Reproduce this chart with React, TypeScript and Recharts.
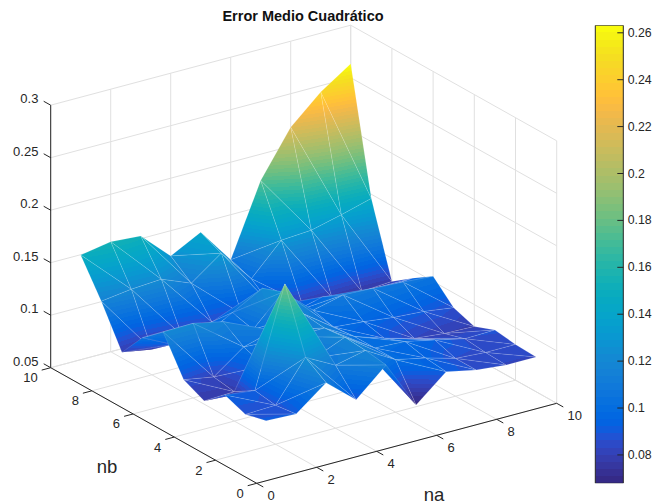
import React from "react";
import { ScatterChart, Scatter, XAxis, YAxis, BarChart, Bar } from "recharts";

const W = 652;
const H = 504;

const na = [1, 2, 3, 4, 5, 6, 7, 8, 9, 10];
const nb = [1, 2, 3, 4, 5, 6, 7, 8, 9, 10];
const naTicks = [0, 2, 4, 6, 8, 10];
const nbTicks = [0, 2, 4, 6, 8, 10];
const zTicks = [0.05, 0.1, 0.15, 0.2, 0.25, 0.3];
const zTickLabels = ["0.05", "0.1", "0.15", "0.2", "0.25", "0.3"];
const barTicks = [0.08, 0.1, 0.12, 0.14, 0.16, 0.18, 0.2, 0.22, 0.24, 0.26];
const barTickLabels = ["0.08", "0.1", "0.12", "0.14", "0.16", "0.18", "0.2", "0.22", "0.24", "0.26"];

const errNb1 = [0.091, 0.0897, 0.112, 0.088, 0.1135, 0.0679, 0.092, 0.086, 0.083, 0.083];
const errNb2 = [0.086, 0.087, 0.125, 0.11, 0.1164, 0.1, 0.094, 0.086, 0.084, 0.084];
const errNb3 = [0.0934, 0.09, 0.184, 0.106, 0.118, 0.1, 0.0986, 0.0925, 0.086, 0.0868];
const errNb4 = [0.0767, 0.078, 0.095, 0.115, 0.1157, 0.1, 0.0907, 0.083, 0.08, 0.079];
const errNb5 = [0.086, 0.081, 0.102, 0.11, 0.118, 0.098, 0.0955, 0.092, 0.09, 0.086];
const errNb6 = [0.1205, 0.121, 0.115, 0.1, 0.128, 0.103, 0.11, 0.1087, 0.107, 0.105];
const errNb7 = [0.104, 0.09, 0.09, 0.105, 0.1205, 0.09, 0.097, 0.093, 0.09, 0.092];
const errNb8 = [0.079, 0.074, 0.08, 0.085, 0.085, 0.085, 0.08, 0.078, 0.076, 0.078];
const errNb9 = [0.1167, 0.1205, 0.1224, 0.111, 0.132, 0.1, 0.129, 0.131, 0.138, 0.146];
const errNb10 = [0.1497, 0.1548, 0.1526, 0.126, 0.141, 0.107, 0.175, 0.218, 0.244, 0.2632];
const surface = [errNb1, errNb2, errNb3, errNb4, errNb5, errNb6, errNb7, errNb8, errNb9, errNb10];

const C_MIN = 0.0679;
const C_MAX = 0.2632;

const parula: number[][] = [
  [0.2081, 0.1663, 0.5292], [0.2116, 0.1898, 0.5777], [0.2123, 0.2138, 0.627], [0.2081, 0.2386, 0.6771],
  [0.1959, 0.2645, 0.7279], [0.1707, 0.2919, 0.7792], [0.1253, 0.3242, 0.8303], [0.0591, 0.3598, 0.8683],
  [0.0117, 0.3875, 0.882], [0.006, 0.4086, 0.8828], [0.0165, 0.4266, 0.8786], [0.0329, 0.443, 0.872],
  [0.0498, 0.4586, 0.8641], [0.0629, 0.4737, 0.8554], [0.0723, 0.4887, 0.8467], [0.0779, 0.504, 0.8384],
  [0.0793, 0.52, 0.8312], [0.0749, 0.5375, 0.8263], [0.0641, 0.557, 0.824], [0.0488, 0.5772, 0.8228],
  [0.0343, 0.5966, 0.8199], [0.0265, 0.6137, 0.8135], [0.0239, 0.6287, 0.8038], [0.0231, 0.6418, 0.7913],
  [0.0228, 0.6535, 0.7768], [0.0267, 0.6642, 0.7607], [0.0384, 0.6743, 0.7436], [0.059, 0.6838, 0.7254],
  [0.0843, 0.6928, 0.7062], [0.1133, 0.7015, 0.6859], [0.1453, 0.7098, 0.6646], [0.1801, 0.7177, 0.6424],
  [0.2178, 0.725, 0.6193], [0.2586, 0.7317, 0.5954], [0.3022, 0.7376, 0.5712], [0.3482, 0.7424, 0.5473],
  [0.3953, 0.7459, 0.5244], [0.442, 0.7481, 0.5033], [0.4871, 0.7491, 0.484], [0.53, 0.7491, 0.4661],
  [0.5709, 0.7485, 0.4494], [0.6099, 0.7473, 0.4337], [0.6473, 0.7456, 0.4188], [0.6834, 0.7435, 0.4044],
  [0.7184, 0.7411, 0.3905], [0.7525, 0.7384, 0.3768], [0.7858, 0.7356, 0.3633], [0.8185, 0.7327, 0.3498],
  [0.8507, 0.7299, 0.336], [0.8824, 0.7274, 0.3217], [0.9139, 0.7258, 0.3063], [0.945, 0.7261, 0.2886],
  [0.9739, 0.7314, 0.2666], [0.9938, 0.7455, 0.2403], [0.999, 0.7653, 0.2164], [0.9955, 0.7861, 0.1967],
  [0.988, 0.8066, 0.1794], [0.9789, 0.8271, 0.1633], [0.9697, 0.8481, 0.1475], [0.9626, 0.8705, 0.1309],
  [0.9589, 0.8949, 0.1132], [0.9598, 0.9218, 0.0948], [0.9661, 0.9514, 0.0755], [0.9763, 0.9831, 0.0538],
];
const N = parula.length;
const css = (c: number[]) => `rgb(${c.map((v) => Math.round(v * 255)).join(",")})`;

// orthographic camera of the 3-D axes
const project = (a: number, b: number, z: number) => ({
  x: 256.7 + 30 * a - 20.6 * b,
  y: 483.3 - 8 * a - 11.56 * b - (z - 0.05) * 1050,
});

const GRID = "#e0e0e0";
const INK = "#262626";
const FONT = "'Liberation Sans', Arial, sans-serif";

const Nothing = () => <g />;

type V = { a: number; b: number; z: number };

function stopsFor(vmin: number, vmax: number) {
  const toBand = (v: number) => Math.max(0, Math.min(N - 1, Math.floor(((v - C_MIN) / (C_MAX - C_MIN)) * N)));
  const first = toBand(vmin);
  const last = toBand(vmax);
  const out: React.ReactElement[] = [];
  for (let i = first; i <= last; i++) {
    const lo = C_MIN + (i / N) * (C_MAX - C_MIN);
    const hi = C_MIN + ((i + 1) / N) * (C_MAX - C_MIN);
    const t0 = Math.max(0, (lo - vmin) / (vmax - vmin));
    const t1 = Math.min(1, (hi - vmin) / (vmax - vmin));
    out.push(<stop key={i + "a"} offset={t0} stopColor={css(parula[i])} />);
    out.push(<stop key={i + "b"} offset={t1} stopColor={css(parula[i])} />);
  }
  return out;
}

function triangleLine(id: string, tri: V[]) {
  return (props: any) => {
    const pts: { x: number; y: number }[] = props.points;
    const d = pts.map((p) => `${p.x},${p.y}`).join(" ");
    const [p0, p1, p2] = pts;
    const vs = tri.map((t) => t.z);
    const vmin = Math.min(...vs);
    const vmax = Math.max(...vs);
    const det = (p1.x - p0.x) * (p2.y - p0.y) - (p2.x - p0.x) * (p1.y - p0.y);
    if (Math.abs(det) < 1e-6) return <g />;
    const dv1 = vs[1] - vs[0];
    const dv2 = vs[2] - vs[0];
    const gx = (dv1 * (p2.y - p0.y) - dv2 * (p1.y - p0.y)) / det;
    const gy = (dv2 * (p1.x - p0.x) - dv1 * (p2.x - p0.x)) / det;
    const g2 = gx * gx + gy * gy;
    const seam = { stroke: "#ffffff", strokeOpacity: 0.2, strokeWidth: 0.6 };
    if (g2 === 0 || vmax === vmin) {
      const band = Math.max(0, Math.min(N - 1, Math.floor(((vmin - C_MIN) / (C_MAX - C_MIN)) * N)));
      return <polygon points={d} fill={css(parula[band])} {...seam} />;
    }
    const A = pts[vs.indexOf(vmin)];
    const span = vmax - vmin;
    return (
      <g>
        <defs>
          <linearGradient
            id={id}
            gradientUnits="userSpaceOnUse"
            x1={A.x}
            y1={A.y}
            x2={A.x + (gx * span) / g2}
            y2={A.y + (gy * span) / g2}
          >
            {stopsFor(vmin, vmax)}
          </linearGradient>
        </defs>
        <polygon points={d} fill={`url(#${id})`} {...seam} />
      </g>
    );
  };
}

function buildTriangles() {
  const quads: { a: number; b: number }[] = [];
  for (let i = 0; i < na.length - 1; i++) for (let j = 0; j < nb.length - 1; j++) quads.push({ a: i, b: j });
  quads.sort((p, q) => q.a + q.b - (p.a + p.b));
  const vert = (i: number, j: number): V => ({ a: na[i], b: nb[j], z: surface[j][i] });
  const tris: V[][] = [];
  quads.forEach(({ a: i, b: j }) => {
    tris.push([vert(i + 1, j), vert(i + 1, j + 1), vert(i, j + 1)]);
    tris.push([vert(i, j), vert(i + 1, j), vert(i, j + 1)]);
  });
  return tris;
}

const triangles = buildTriangles();

type Seg = { from: [number, number, number]; to: [number, number, number]; color: string };

function buildSegments(): Seg[] {
  const s: Seg[] = [];
  const zLo = zTicks[0];
  const zHi = zTicks[zTicks.length - 1];
  const aMax = naTicks[naTicks.length - 1];
  const bMax = nbTicks[nbTicks.length - 1];
  // floor
  naTicks.forEach((a) => s.push({ from: [a, 0, zLo], to: [a, bMax, zLo], color: GRID }));
  nbTicks.forEach((b) => s.push({ from: [0, b, zLo], to: [aMax, b, zLo], color: GRID }));
  // back walls
  naTicks.forEach((a) => s.push({ from: [a, bMax, zLo], to: [a, bMax, zHi], color: GRID }));
  nbTicks.forEach((b) => s.push({ from: [aMax, b, zLo], to: [aMax, b, zHi], color: GRID }));
  zTicks.forEach((z) => {
    s.push({ from: [0, bMax, z], to: [aMax, bMax, z], color: GRID });
    s.push({ from: [aMax, 0, z], to: [aMax, bMax, z], color: GRID });
  });
  return s;
}

function buildAxes(): Seg[] {
  const s: Seg[] = [];
  const zLo = zTicks[0];
  const zHi = zTicks[zTicks.length - 1];
  const aMax = naTicks[naTicks.length - 1];
  const bMax = nbTicks[nbTicks.length - 1];
  s.push({ from: [0, bMax, zLo], to: [0, bMax, zHi], color: INK });
  s.push({ from: [0, 0, zLo], to: [0, bMax, zLo], color: INK });
  s.push({ from: [0, 0, zLo], to: [aMax, 0, zLo], color: INK });
  zTicks.forEach((z) => s.push({ from: [0, bMax, z], to: [0, bMax + 0.34, z], color: INK }));
  nbTicks.forEach((b) => s.push({ from: [0, b, zLo], to: [-0.3, b, zLo], color: INK }));
  naTicks.forEach((a) => s.push({ from: [a, 0, zLo], to: [a, -0.32, zLo], color: INK }));
  return s;
}

const gridSegs = buildSegments();
const axisSegs = buildAxes();

type Lbl = { x: number; y: number; text: string; anchor: string; size: number; weight?: string; color: string };

function buildLabels(): Lbl[] {
  const out: Lbl[] = [];
  zTicks.forEach((z, i) => {
    const p = project(0, 10, z);
    out.push({ x: p.x - 12.3, y: p.y - 6.3, text: zTickLabels[i], anchor: "end", size: 13, color: INK });
  });
  nbTicks.forEach((b) => {
    const p = project(0, b, 0.05);
    out.push({ x: p.x - 13, y: p.y + 10, text: String(b), anchor: "end", size: 13, color: INK });
  });
  naTicks.forEach((a) => {
    const p = project(a, 0, 0.05);
    out.push({ x: p.x + 10.9, y: p.y + 12, text: String(a), anchor: "start", size: 13, color: INK });
  });
  out.push({ x: 107, y: 466.5, text: "nb", anchor: "middle", size: 18.5, color: INK });
  out.push({ x: 434, y: 494.5, text: "na", anchor: "middle", size: 18.5, color: INK });
  out.push({ x: 303, y: 15.5, text: "Error Medio Cuadrático", anchor: "middle", size: 14.5, weight: "bold", color: "#111" });
  return out;
}
const labels = buildLabels();

const LabelShape = (p: any) => {
  const d: Lbl = p.payload;
  return (
    <text
      x={p.cx}
      y={p.cy}
      textAnchor={d.anchor as any}
      dominantBaseline="central"
      fontFamily={FONT}
      fontSize={d.size}
      fontWeight={d.weight ?? "normal"}
      fill={d.color}
    >
      {d.text}
    </text>
  );
};

const segData = (s: Seg) => [
  project(s.from[0], s.from[1], s.from[2]),
  project(s.to[0], s.to[1], s.to[2]),
];

const barRow = [{ name: "c", value: C_MAX }];

const BarTick = (p: any) => {
  const i = barTicks.indexOf(p.payload.value);
  return (
    <g>
      <line x1={p.x - 6} x2={p.x} y1={p.y} y2={p.y} stroke={INK} />
      <text x={p.x + 4.4} y={p.y} dominantBaseline="central" fontFamily={FONT} fontSize={12.3} fill={INK}>
        {barTickLabels[i]}
      </text>
    </g>
  );
};

export default function App() {
  return (
    <div style={{ position: "absolute", left: 0, top: 0, width: W, height: H, overflow: "hidden", background: "#fff" }}>
      <div style={{ position: "absolute", left: 0, top: 0 }}>
        <ScatterChart width={W} height={H} margin={{ top: 0, right: 0, bottom: 0, left: 0 }}>
          <XAxis type="number" dataKey="x" domain={[0, W]} hide />
          <YAxis type="number" dataKey="y" domain={[0, H]} reversed hide />
          {gridSegs.map((s, i) => (
            <Scatter
              key={"g" + i}
              data={segData(s)}
              shape={Nothing}
              line={{ stroke: s.color, strokeWidth: 1 }}
              isAnimationActive={false}
            />
          ))}
          {axisSegs.map((s, i) => (
            <Scatter
              key={"a" + i}
              data={segData(s)}
              shape={Nothing}
              line={{ stroke: s.color, strokeWidth: 1 }}
              isAnimationActive={false}
            />
          ))}
          {triangles.map((t, i) => (
            <Scatter
              key={"t" + i}
              data={t.map((v) => project(v.a, v.b, v.z))}
              shape={Nothing}
              line={triangleLine("tri" + i, t) as any}
              isAnimationActive={false}
            />
          ))}
          <Scatter data={labels} shape={LabelShape} isAnimationActive={false} />
        </ScatterChart>
      </div>
      <div style={{ position: "absolute", left: 0, top: 0 }}>
        <BarChart
          width={W}
          height={H}
          data={barRow}
          barCategoryGap={0}
          margin={{ top: 25.3, right: 27.7, bottom: 20.7, left: 595.3 }}
        >
          <defs>
            <linearGradient id="cbar" x1="0" y1="1" x2="0" y2="0">
              {parula.map((c, i) => (
                <React.Fragment key={i}>
                  <stop offset={i / N} stopColor={css(c)} />
                  <stop offset={(i + 1) / N} stopColor={css(c)} />
                </React.Fragment>
              ))}
            </linearGradient>
          </defs>
          <XAxis dataKey="name" hide />
          <YAxis
            orientation="right"
            width={1}
            domain={[C_MIN, C_MAX]}
            ticks={barTicks}
            interval={0}
            tick={BarTick}
            tickLine={false}
            tickSize={0}
            tickMargin={0}
            axisLine={false}
            allowDataOverflow
          />
          <Bar dataKey="value" fill="url(#cbar)" stroke={INK} strokeWidth={1} isAnimationActive={false} />
        </BarChart>
      </div>
    </div>
  );
}
